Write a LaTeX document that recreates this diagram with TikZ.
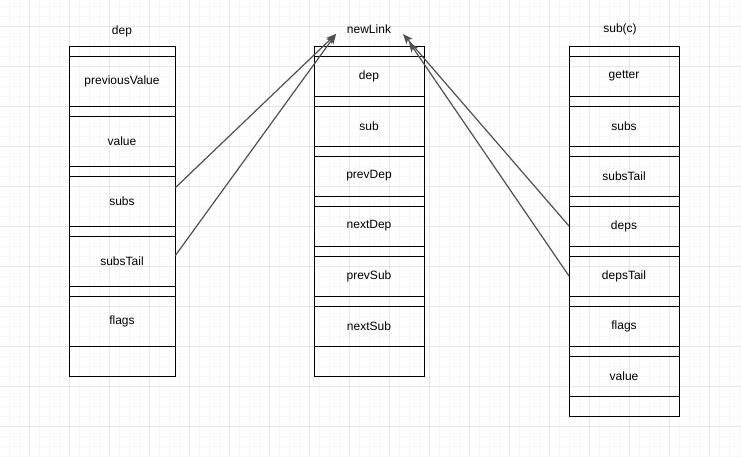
\documentclass[tikz,border=0pt]{standalone}
\usepackage{fontspec}
\setmainfont{Liberation Sans}
\usetikzlibrary{arrows.meta,positioning}
\definecolor{minorGrid}{RGB}{247,247,247}
\definecolor{majorGrid}{RGB}{230,230,230}
\definecolor{linkGray}{RGB}{80,80,80}
\tikzset{%
  >={Stealth[length=10pt,width=8pt,inset=2.5pt]},
  base/.style = {rectangle, draw=black, line width=0.9pt,
      inner sep=0pt, outer sep=0pt, text centered,
      font=\fontsize{12}{14}\selectfont},
  colA/.style = {minimum width=106pt},
  colB/.style = {minimum width=110pt},
  slot/.style = {base, minimum height=10pt},
  wide/.style = {base, minimum height=50pt},
  cell/.style = {base, minimum height=40pt},
  title/.style = {font=\fontsize{12}{14}\selectfont},
  link/.style = {->, draw=linkGray, line width=1.2pt},
}
\begin{document}
\begin{tikzpicture}[x=1pt, y=-1pt]
  \useasboundingbox (0,0) rectangle (741,456);
  % background grid
  \foreach \gx in {9,19,...,739} \draw[minorGrid, line width=0.5pt] (\gx,0) -- (\gx,456);
  \foreach \gy in {6,16,...,456} \draw[minorGrid, line width=0.5pt] (0,\gy) -- (741,\gy);
  \foreach \gx in {29,69,...,739} \draw[majorGrid, line width=0.7pt] (\gx,0) -- (\gx,456);
  \foreach \gy in {26,66,...,456} \draw[majorGrid, line width=0.7pt] (0,\gy) -- (741,\gy);

  % dep column
  \node (depHead)   [title] at (122,31) {dep};
  \node (dTop)      [slot, colA] at (122,51) {};
  \node (dPrev)     [wide, colA, below=0pt of dTop]      {previousValue};
  \node (dGap1)     [slot, colA, below=0pt of dPrev]     {};
  \node (dValue)    [wide, colA, below=0pt of dGap1]     {value};
  \node (dGap2)     [slot, colA, below=0pt of dValue]    {};
  \node (dSubs)     [wide, colA, below=0pt of dGap2]     {subs};
  \node (dGap3)     [slot, colA, below=0pt of dSubs]     {};
  \node (dSubsTail) [wide, colA, below=0pt of dGap3]     {subsTail};
  \node (dGap4)     [slot, colA, below=0pt of dSubsTail] {};
  \node (dFlags)    [wide, colA, below=0pt of dGap4]     {flags};
  \node (dEnd)      [base, colA, minimum height=30pt, below=0pt of dFlags] {};

  % newLink column
  \node (linkHead)  [title] at (369,29) {newLink};
  \node (lTop)      [slot, colB] at (369,51) {};
  \node (lDep)      [cell, colB, below=0pt of lTop]      {dep};
  \node (lGap1)     [slot, colB, below=0pt of lDep]      {};
  \node (lSub)      [cell, colB, below=0pt of lGap1]     {sub};
  \node (lGap2)     [slot, colB, below=0pt of lSub]      {};
  \node (lPrevDep)  [cell, colB, below=0pt of lGap2]     {prevDep};
  \node (lGap3)     [slot, colB, below=0pt of lPrevDep]  {};
  \node (lNextDep)  [cell, colB, below=0pt of lGap3]     {nextDep};
  \node (lGap4)     [slot, colB, below=0pt of lNextDep]  {};
  \node (lPrevSub)  [cell, colB, below=0pt of lGap4]     {prevSub};
  \node (lGap5)     [slot, colB, below=0pt of lPrevSub]  {};
  \node (lNextSub)  [cell, colB, below=0pt of lGap5]     {nextSub};
  \node (lEnd)      [base, colB, minimum height=30pt, below=0pt of lNextSub] {};

  % sub(c) column
  \node (subHead)   [title] at (620,29) {sub(c)};
  \node (sTop)      [slot, colB] at (624,51) {};
  \node (sGetter)   [cell, colB, below=0pt of sTop]      {getter};
  \node (sGap1)     [slot, colB, below=0pt of sGetter]   {};
  \node (sSubs)     [cell, colB, below=0pt of sGap1]     {subs};
  \node (sGap2)     [slot, colB, below=0pt of sSubs]     {};
  \node (sSubsTail) [cell, colB, below=0pt of sGap2]     {subsTail};
  \node (sGap3)     [slot, colB, below=0pt of sSubsTail] {};
  \node (sDeps)     [cell, colB, below=0pt of sGap3]     {deps};
  \node (sGap4)     [slot, colB, below=0pt of sDeps]     {};
  \node (sDepsTail) [cell, colB, below=0pt of sGap4]     {depsTail};
  \node (sGap5)     [slot, colB, below=0pt of sDepsTail] {};
  \node (sFlags)    [cell, colB, below=0pt of sGap5]     {flags};
  \node (sGap6)     [slot, colB, below=0pt of sFlags]    {};
  \node (sValue)    [cell, colB, below=0pt of sGap6]     {value};
  \node (sEnd)      [base, colB, minimum height=20pt, below=0pt of sValue] {};

  % arrow ends near the newLink title
  \coordinate (tipL)  at (336,34);
  \coordinate (tipR1) at (403,34);
  \coordinate (tipR2) at (409,42);

  % links into newLink
  \draw[link] ([yshift=13pt]dSubs.east)    -- (tipL);
  \draw[link] ([yshift=5pt]dSubsTail.east) -- (tipL);
  \draw[link] (sDeps.west)                 -- (tipR1);
  \draw[link] (sDepsTail.west)             -- (tipR2);
\end{tikzpicture}
\end{document}
